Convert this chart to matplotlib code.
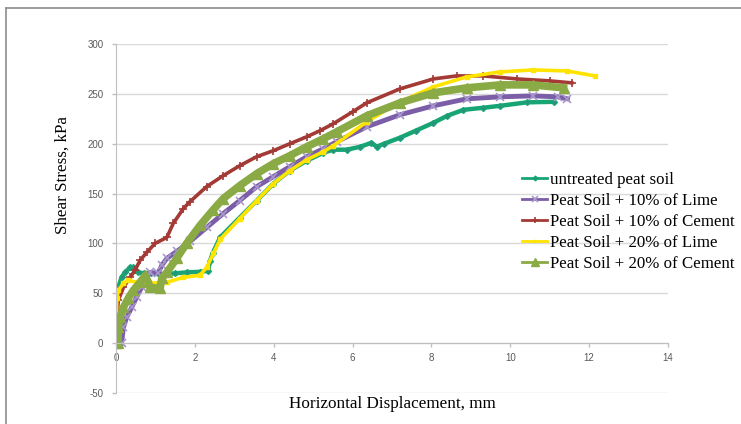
import numpy as np
import matplotlib.pyplot as plt
from matplotlib.lines import Line2D

plt.rcParams["axes.unicode_minus"] = False

# (mm, kPa)
untreated_x = [0, 0.01, 0.06, 0.14, 0.23, 0.36, 0.44, 0.57, 0.7, 0.9, 1.1, 1.5, 1.8, 2.13, 2.34,
               2.38, 2.45, 2.64, 3.14, 3.57, 3.99, 4.41, 4.84, 5.26, 5.51, 5.85, 6.2, 6.48, 6.61,
               6.8, 7.2, 7.6, 8.05, 8.4, 8.81, 9.3, 9.74, 10.42, 11.1]
untreated_y = [0, 48, 56, 66, 71, 76, 76, 71, 70, 70, 69, 70, 71, 71.5, 72.5,
               82, 90, 106, 126, 143, 160, 173, 183, 191, 194, 194, 197, 201, 197,
               200, 206, 213, 221, 228, 234, 236, 238, 241.5, 242]

lime10_x = [0.14, 0.19, 0.27, 0.4, 0.52, 0.65, 0.78, 0.86, 1.07, 1.16, 1.29, 1.54, 1.88, 2.3,
            2.72, 3.14, 3.57, 3.99, 4.41, 4.84, 5.26, 5.6, 6.36, 7.2, 8.05, 8.89, 9.74, 10.58,
            11.2, 11.45]
lime10_y = [0, 16, 26, 36, 46, 56, 66, 71, 70, 78, 85, 92, 102, 116,
            130, 143, 157, 167, 177, 187, 195, 202, 217, 229, 238, 245, 247, 248,
            247, 245]

cement10_x = [0, 0.02, 0.06, 0.19, 0.36, 0.48, 0.61, 0.78, 0.99, 1.29, 1.45, 1.71, 1.88, 2.3,
              2.72, 3.14, 3.57, 3.99, 4.41, 4.84, 5.17, 5.51, 6.0, 6.36, 7.2, 8.05, 8.64, 9.32,
              10.16, 11.0, 11.56]
cement10_y = [0, 26, 43, 56, 66, 73, 83, 91, 100, 106, 120, 135, 142, 157,
              168, 178, 187, 193, 200, 207, 213, 220, 232, 241, 255, 265, 268, 268,
              265, 263, 261]

lime20_x = [0, 0.02, 0.06, 0.19, 0.31, 0.52, 0.86, 1.29, 1.71, 2.13, 2.3, 2.47, 2.64, 3.14,
            3.57, 3.99, 4.41, 4.84, 5.26, 5.51, 6.36, 7.2, 8.05, 8.89, 9.74, 10.58, 11.43, 12.15]
lime20_y = [0, 45, 53, 60, 63, 61, 60, 61, 66, 68, 76, 90, 104, 125,
            143, 160, 173, 184, 192, 198, 222, 242, 257, 267, 272, 274, 273, 268]

cement20_x = [0, 0.05, 0.06, 0.1, 0.19, 0.31, 0.44, 0.61, 0.74, 0.82, 0.86, 1.12, 1.16, 1.29,
              1.54, 1.79, 2.13, 2.47, 2.72, 3.14, 3.57, 3.99, 4.41, 4.84, 5.26, 5.6, 6.36, 7.2,
              8.05, 8.89, 9.74, 10.58, 11.35]
cement20_y = [0, 0, 16, 26, 36, 45, 53, 61, 68, 61, 56, 55, 65, 71,
              85, 100, 118, 134, 145, 158, 170, 180, 188, 197, 205, 212, 228, 241,
              251, 256, 259, 259, 256]

labels = ["untreated peat soil", "Peat Soil + 10% of Lime", "Peat Soil + 10% of Cement",
          "Peat Soil + 20% of Lime", "Peat Soil + 20% of Cement"]

fig = plt.figure(figsize=(7.41, 4.24), dpi=100)
ax = fig.add_axes([116/741, 1 - 393/424, 552/741, 349/424])

ax.plot(untreated_x, untreated_y, color="#17a673", lw=3.2, marker="D", ms=3,
        mfc="#2f8c86", mec="#17a673", label=labels[0])
ax.plot(lime10_x, lime10_y, color="#7b5ea7", lw=3.5, marker="x", ms=6, mew=1.2,
        mec="#a898cc", label=labels[1])
ax.plot(cement10_x, cement10_y, color="#a33a36", lw=2.6, marker="+", ms=6, mew=1.2,
        label=labels[2])
ax.plot(lime20_x, lime20_y, color="#ffe400", lw=2.6, marker="s", ms=2.5, label=labels[3])
ax.plot(cement20_x, cement20_y, color="#8aaa45", lw=5.5, marker="^", ms=7, label=labels[4])

ax.set_xlim(0, 14)
ax.set_ylim(-50, 300)
ax.set_xticks(np.arange(0, 15, 2))
ax.set_yticks(np.arange(-50, 301, 50))
ax.yaxis.grid(True, color="#d9d9d9", lw=1)
ax.set_axisbelow(True)
for s in ["top", "right"]:
    ax.spines[s].set_visible(False)
ax.spines["bottom"].set_position(("data", 0))
ax.spines["bottom"].set_color("#bfbfbf")
ax.spines["left"].set_color("#bfbfbf")
ax.tick_params(axis="both", colors="#bfbfbf", labelcolor="#595959", labelsize=7,
               length=3, width=1)
ax.tick_params(axis="y", pad=6)
ax.tick_params(axis="x", pad=4)
for t in ax.get_xticklabels() + ax.get_yticklabels():
    t.set_fontfamily("Liberation Sans")

fig.text(63/741, 1 - 175/424, "Shear Stress, kPa", rotation=90, ha="center", va="center",
         fontsize=12.3, family="Liberation Serif")
fig.text(392/741, 1 - 404/424, "Horizontal Displacement, mm", ha="center", va="center",
         fontsize=12.3, family="Liberation Serif")

leg = fig.legend(loc="upper left", bbox_to_anchor=(522/741, 1 - 172/424), frameon=False,
                 prop={"family": "Liberation Serif", "size": 12.2}, handlelength=1.5,
                 handletextpad=0.15, labelspacing=0.3, borderpad=0, borderaxespad=0,
                 markerscale=0.8)
for h in leg.legend_handles:
    h.set_linewidth(2)

# outer frame
fig.add_artist(Line2D([6/741, 1], [1 - 8/424, 1 - 8/424], color="#8c8c8c", lw=1.2,
                      transform=fig.transFigure))
fig.add_artist(Line2D([6/741, 6/741], [0, 1 - 8/424], color="#8c8c8c", lw=1.2,
                      transform=fig.transFigure))

fig.savefig("out.png", dpi=100)
